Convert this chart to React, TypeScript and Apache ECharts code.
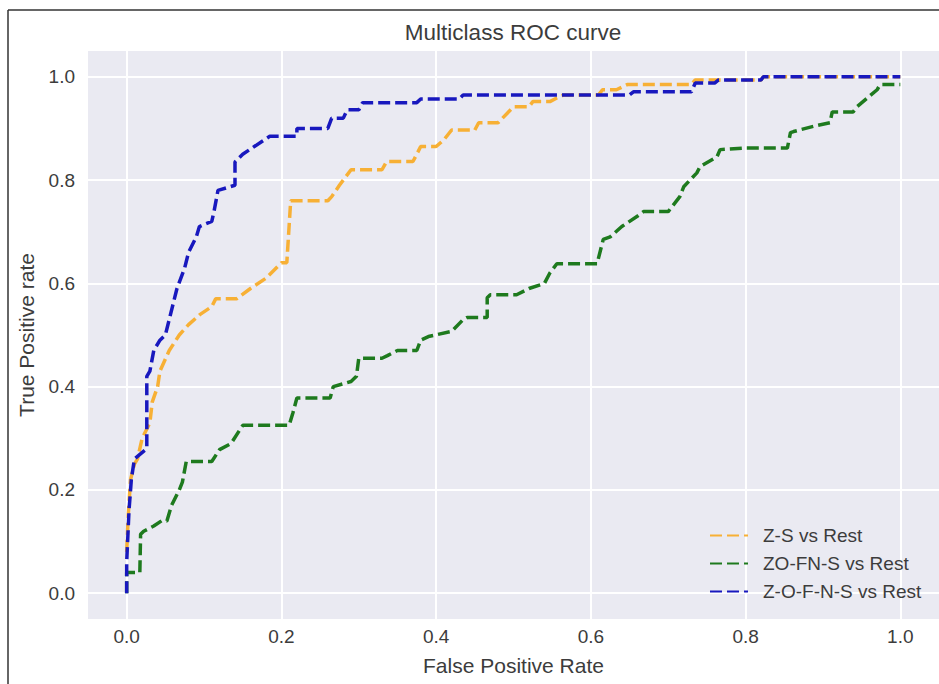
import React, { useEffect, useRef } from "react";
import * as echarts from "echarts";

const xTicks = [0, 0.2, 0.4, 0.6, 0.8, 1.0];
const yTicks = [0, 0.2, 0.4, 0.6, 0.8, 1.0];
const seriesNames = ["Z-S vs Rest", "ZO-FN-S vs Rest", "Z-O-F-N-S vs Rest"];
const seriesColors = ["#F7B035", "#1E7A1E", "#1818BE"];

// Z-S vs Rest  [FPR, TPR]
const zsRoc: [number, number][] = [
  [0, 0.08], [0.002, 0.15], [0.005, 0.22], [0.01, 0.25], [0.014, 0.26], [0.02, 0.3],
  [0.03, 0.33], [0.033, 0.37], [0.04, 0.4], [0.043, 0.43], [0.055, 0.47], [0.068, 0.5],
  [0.08, 0.52], [0.095, 0.54], [0.11, 0.555], [0.115, 0.57], [0.142, 0.57], [0.16, 0.59],
  [0.18, 0.61], [0.2, 0.64], [0.207, 0.64], [0.212, 0.76], [0.26, 0.76], [0.265, 0.768],
  [0.275, 0.79], [0.29, 0.82], [0.33, 0.82], [0.336, 0.836], [0.37, 0.836], [0.375, 0.85],
  [0.38, 0.865], [0.4, 0.865], [0.41, 0.878], [0.42, 0.897], [0.45, 0.897], [0.455, 0.911],
  [0.48, 0.911], [0.5, 0.942], [0.52, 0.942], [0.525, 0.952], [0.547, 0.952], [0.556, 0.959],
  [0.565, 0.965], [0.61, 0.965], [0.615, 0.975], [0.633, 0.975], [0.647, 0.985], [0.73, 0.985],
  [0.735, 0.994], [0.82, 0.994], [0.823, 1.0], [1.0, 1.0],
];

// ZO-FN-S vs Rest
const zofnsRoc: [number, number][] = [
  [0, 0], [0, 0.04], [0.017, 0.04], [0.018, 0.114], [0.022, 0.12], [0.035, 0.13],
  [0.045, 0.14], [0.052, 0.14], [0.058, 0.17], [0.068, 0.2], [0.072, 0.215], [0.077, 0.255],
  [0.11, 0.255], [0.12, 0.278], [0.135, 0.29], [0.15, 0.325], [0.21, 0.325], [0.215, 0.35],
  [0.22, 0.378], [0.263, 0.378], [0.267, 0.4], [0.29, 0.41], [0.297, 0.42], [0.3, 0.455],
  [0.33, 0.455], [0.337, 0.46], [0.35, 0.47], [0.375, 0.47], [0.38, 0.49], [0.39, 0.497],
  [0.42, 0.507], [0.435, 0.53], [0.44, 0.534], [0.466, 0.534], [0.466, 0.572], [0.47, 0.578],
  [0.504, 0.578], [0.52, 0.59], [0.54, 0.6], [0.547, 0.62], [0.556, 0.638], [0.608, 0.638],
  [0.616, 0.685], [0.625, 0.69], [0.64, 0.71], [0.66, 0.73], [0.668, 0.739], [0.7, 0.739],
  [0.715, 0.768], [0.72, 0.787], [0.737, 0.814], [0.741, 0.826], [0.763, 0.845], [0.767, 0.859],
  [0.797, 0.862], [0.854, 0.862], [0.858, 0.892], [0.862, 0.894], [0.89, 0.905], [0.909, 0.911],
  [0.912, 0.932], [0.939, 0.932], [0.944, 0.942], [0.97, 0.975], [0.974, 0.985], [1.0, 0.985],
];

// Z-O-F-N-S vs Rest
const zofnsFullRoc: [number, number][] = [
  [0, 0], [0, 0.06], [0.003, 0.16], [0.006, 0.22], [0.01, 0.26], [0.014, 0.265],
  [0.026, 0.28], [0.026, 0.42], [0.03, 0.43], [0.035, 0.47], [0.043, 0.49], [0.05, 0.5],
  [0.06, 0.56], [0.065, 0.59], [0.075, 0.63], [0.08, 0.66], [0.09, 0.69], [0.094, 0.71],
  [0.11, 0.72], [0.113, 0.74], [0.118, 0.78], [0.14, 0.79], [0.14, 0.835], [0.15, 0.85],
  [0.165, 0.865], [0.185, 0.885], [0.22, 0.885], [0.22, 0.9], [0.26, 0.9], [0.265, 0.92],
  [0.28, 0.92], [0.285, 0.936], [0.3, 0.936], [0.305, 0.95], [0.375, 0.95], [0.38, 0.957],
  [0.43, 0.957], [0.435, 0.965], [0.65, 0.965], [0.655, 0.971], [0.73, 0.971], [0.735, 0.988],
  [0.76, 0.988], [0.765, 0.994], [0.82, 0.994], [0.823, 1.0], [1.0, 1.0],
];

const rocData = [zsRoc, zofnsRoc, zofnsFullRoc];

const FONT = '"Liberation Sans", Arial, sans-serif';
const TEXT = "#3c3c3c";

export default function App() {
  const ref = useRef<HTMLDivElement>(null);
  useEffect(() => {
    if (!ref.current) return;
    const chart = echarts.init(ref.current, undefined, { renderer: "svg" });
    chart.setOption({
      animation: false,
      backgroundColor: "#ffffff",
      textStyle: { fontFamily: FONT },
      grid: {
        left: 88,
        right: 0,
        top: 51,
        bottom: 65,
        show: true,
        backgroundColor: "#EAEAF2",
        borderWidth: 0,
      },
      graphic: [
        {
          type: "text",
          x: 513,
          y: 32,
          style: {
            text: "Multiclass ROC curve",
            fontSize: 22.5,
            fontFamily: FONT,
            fill: TEXT,
            align: "center",
            verticalAlign: "middle",
          },
        },
        { type: "line", shape: { x1: 8, y1: 10, x2: 939, y2: 10 }, style: { stroke: "#333", lineWidth: 1.5 } },
        { type: "line", shape: { x1: 8, y1: 10, x2: 8, y2: 684 }, style: { stroke: "#333", lineWidth: 1.5 } },
      ],
      legend: {
        orient: "vertical",
        left: 704,
        top: 521,
        itemWidth: 38,
        itemHeight: 14,
        itemGap: 9,
        data: seriesNames,
        itemStyle: { opacity: 0 },
        textStyle: { fontSize: 19, color: TEXT, fontFamily: FONT, padding: [0, 0, 0, 10] },
      },
      xAxis: {
        type: "value",
        min: -0.05,
        max: 1.05,
        name: "False Positive Rate",
        nameLocation: "middle",
        nameGap: 36,
        nameTextStyle: { fontSize: 21, color: TEXT, fontFamily: FONT },
        axisLine: { show: false },
        axisTick: { show: false, customValues: xTicks },
        axisLabel: {
          customValues: xTicks,
          fontSize: 19,
          color: TEXT,
          margin: 8,
          formatter: (v: number) => v.toFixed(1),
        },
        splitLine: { show: true, lineStyle: { color: "#ffffff", width: 2 } },
      },
      yAxis: {
        type: "value",
        min: -0.05,
        max: 1.05,
        name: "True Positive rate",
        nameLocation: "middle",
        nameGap: 51,
        nameTextStyle: { fontSize: 21, color: TEXT, fontFamily: FONT },
        axisLine: { show: false },
        axisTick: { show: false, customValues: yTicks },
        axisLabel: {
          customValues: yTicks,
          fontSize: 19,
          color: TEXT,
          margin: 13,
          formatter: (v: number) => v.toFixed(1),
        },
        splitLine: { show: true, lineStyle: { color: "#ffffff", width: 2 } },
      },
      series: rocData.map((d, i) => ({
        type: "line",
        name: seriesNames[i],
        data: d,
        symbol: "none",
        z: 2 + i,
        lineStyle: { color: seriesColors[i], width: 3.5, type: [12, 5] },
        itemStyle: { color: seriesColors[i] },
      })),
    });
    return () => chart.dispose();
  }, []);
  return (
    <div
      ref={ref}
      style={{ position: "absolute", left: 0, top: 0, width: 939, height: 684 }}
    />
  );
}
